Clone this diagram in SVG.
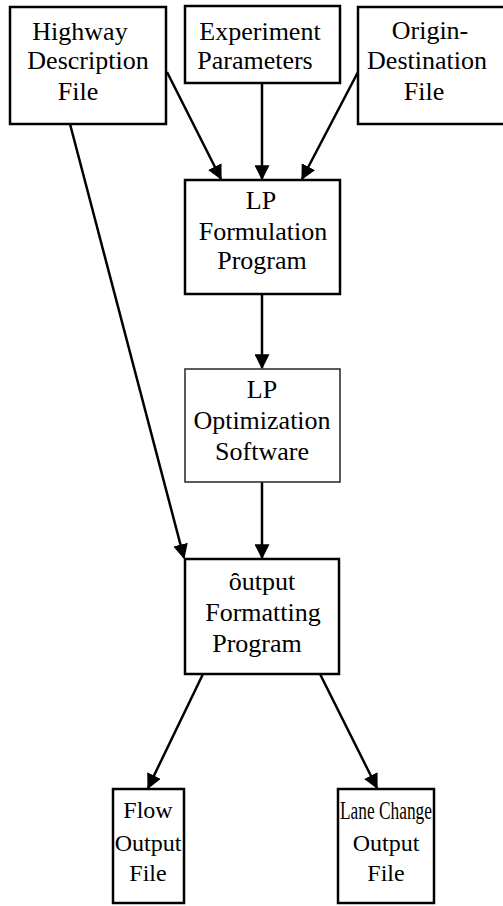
<svg xmlns="http://www.w3.org/2000/svg" width="503" height="906" viewBox="0 0 503 906">
<defs>
<style>
.box{fill:#fff;stroke:#000;stroke-width:2.5}
.light{fill:#fff;stroke:#333;stroke-width:1.6}
.t{font-family:"Liberation Serif","Times New Roman",serif;font-size:26px;fill:#000;text-anchor:middle}
.s{font-size:24px}
.c{stroke:#000;stroke-width:2.5;fill:none;marker-end:url(#ah)}
</style>
<marker id="ah" viewBox="0 0 12 12" refX="11" refY="6" markerWidth="6" markerHeight="6" orient="auto" markerUnits="strokeWidth">
<path d="M0,0 L12,6 L0,12 Z" fill="#000"/>
</marker>
</defs>
<rect width="503" height="906" fill="#fff"/>
<g id="connectors">
<line class="c" x1="167" y1="72" x2="221" y2="179"/>
<line class="c" x1="262" y1="83" x2="262" y2="179"/>
<line class="c" x1="358" y1="72" x2="302" y2="179"/>
<line class="c" x1="262" y1="294" x2="262" y2="368"/>
<line class="c" x1="262" y1="482" x2="262" y2="558"/>
<line class="c" x1="70" y1="124" x2="184" y2="558"/>
<line class="c" x1="203" y1="674" x2="148" y2="788"/>
<line class="c" x1="320" y1="674" x2="377" y2="788"/>
</g>
<g id="highway">
<rect class="box" x="10" y="7" width="156" height="117"/>
<text class="t" x="80" y="40">Highway</text>
<text class="t" x="88" y="69">Description</text>
<text class="t" x="78" y="100">File</text>
</g>
<g id="experiment">
<rect class="box" x="185" y="6" width="155" height="77"/>
<text class="t" x="260" y="40">Experiment</text>
<text class="t" x="255" y="69">Parameters</text>
</g>
<g id="origin">
<rect class="box" x="358" y="7" width="147" height="117"/>
<text class="t" x="430" y="39">Origin-</text>
<text class="t" x="427" y="69">Destination</text>
<text class="t" x="424" y="100">File</text>
</g>
<g id="lp-formulation">
<rect class="box" x="185" y="180" width="155" height="114"/>
<text class="t" x="261" y="209">LP</text>
<text class="t" x="263" y="240">Formulation</text>
<text class="t" x="262" y="269">Program</text>
</g>
<g id="lp-optimization">
<rect class="light" x="185" y="369" width="155" height="113"/>
<text class="t" x="262" y="398">LP</text>
<text class="t" x="262" y="429">Optimization</text>
<text class="t" x="262" y="460">Software</text>
</g>
<g id="output-formatting">
<rect class="box" x="185" y="559" width="154" height="115"/>
<text class="t" x="262" y="590">ȏutput</text>
<text class="t" x="263" y="621">Formatting</text>
<text class="t" x="257" y="652">Program</text>
</g>
<g id="flow-output">
<rect class="box" x="113" y="789" width="71" height="114"/>
<text class="t s" x="148" y="818">Flow</text>
<text class="t s" x="148" y="851">Output</text>
<text class="t s" x="148" y="881">File</text>
</g>
<g id="lane-change-output">
<rect class="box" x="338" y="789" width="96" height="114"/>
<text class="t" x="386" y="819" textLength="92" lengthAdjust="spacingAndGlyphs">Lane Change</text>
<text class="t s" x="386" y="851">Output</text>
<text class="t s" x="386" y="881">File</text>
</g>
</svg>
